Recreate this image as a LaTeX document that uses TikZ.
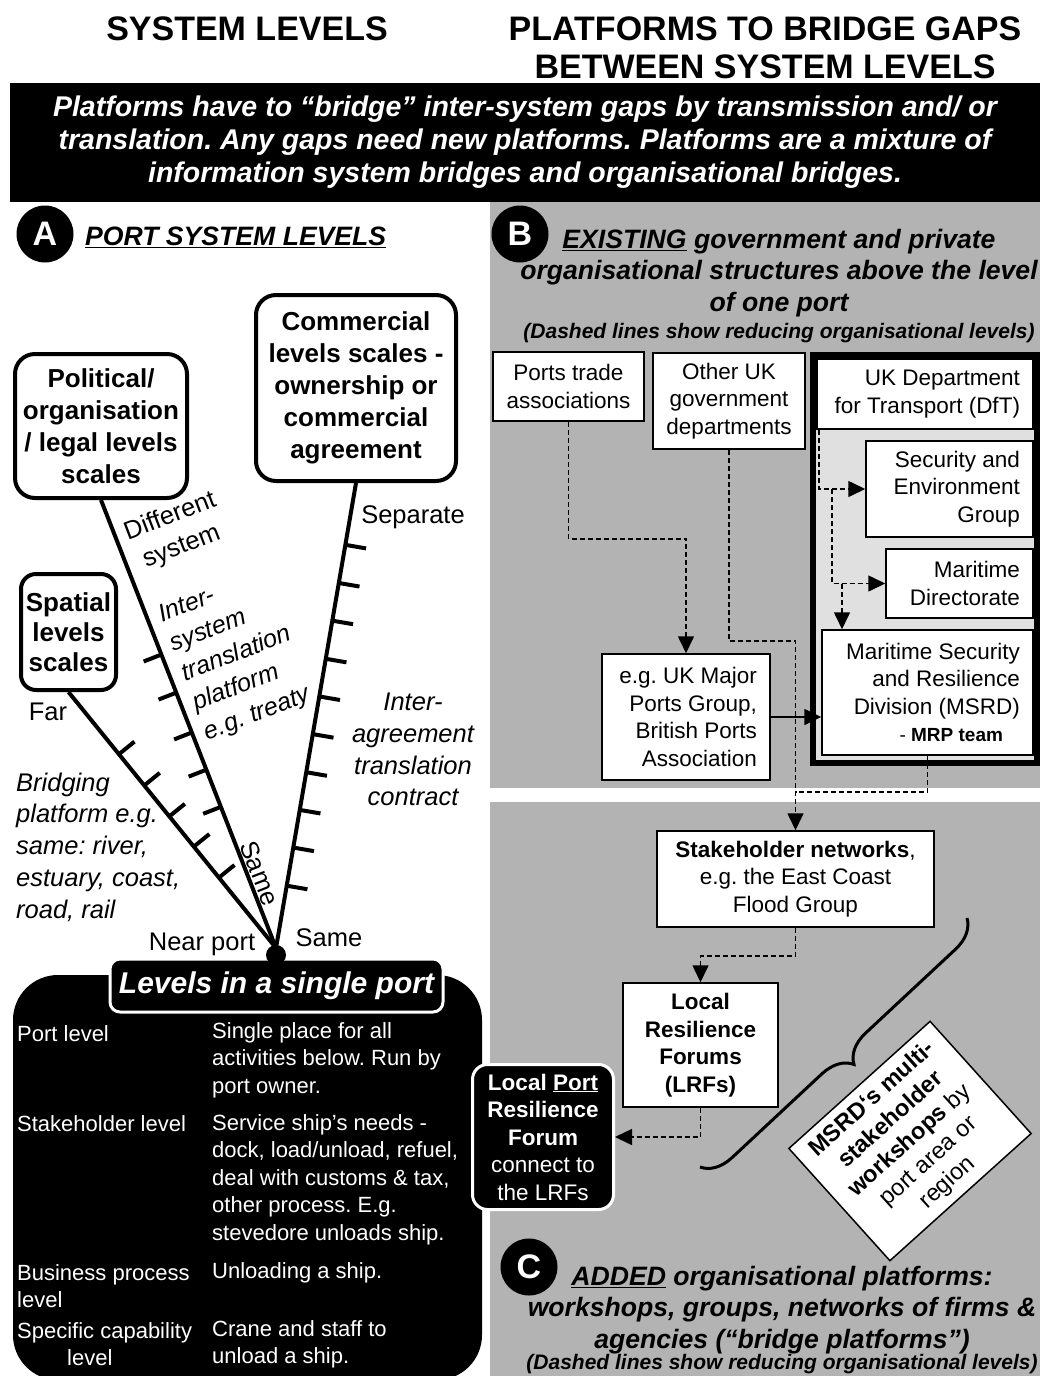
\documentclass[tikz,border=0pt]{standalone}
\usepackage{fontspec}
\setmainfont{Liberation Sans}
\usepackage{tikz}
\usetikzlibrary{positioning,shapes,arrows.meta,calc,decorations.pathreplacing}
\definecolor{panelgrey}{RGB}{179,179,179}
\definecolor{framegrey}{RGB}{224,224,224}

\begin{document}
\frenchspacing
\begin{tikzpicture}[x=1pt, y=-1pt,
    orgbox/.style={rectangle, draw=black, fill=white, line width=1.5pt, inner sep=0pt, font=\fontsize{22.5}{27.5}\selectfont},
    scalebox/.style={rectangle, draw=black, fill=white, line width=4pt, rounded corners=20pt, inner sep=0pt, align=center, font=\bfseries\fontsize{26}{32}\selectfont},
    letter/.style={circle, fill=black, text=white, minimum size=57pt, inner sep=0pt, font=\bfseries\fontsize{34}{34}\selectfont},
    heading/.style={align=center, inner sep=0pt, font=\bfseries\itshape\fontsize{26.6}{31.5}\selectfont},
    note/.style={align=center, inner sep=0pt, font=\bfseries\itshape\fontsize{21}{25}\selectfont},
    fanlabel/.style={align=center, inner sep=0pt, font=\fontsize{25.5}{32}\selectfont},
    tabletext/.style={text=white, align=left, inner sep=0pt, anchor=north west, font=\fontsize{22}{27.5}\selectfont},
    scaleline/.style={line width=4pt},
    scaletick/.style={line width=4pt},
    dashline/.style={dash pattern=on 5pt off 3pt, line width=1.6pt},
    dasharrow/.style={dashline, -{Triangle[length=17pt,width=16pt]}},
    arrow/.style={line width=1.6pt, -{Triangle[length=17pt,width=16pt]}}
]
\useasboundingbox (0,0) rectangle (1040,1376);

% Panels B and C
\fill[panelgrey] (490,202) rectangle (1040,788);
\fill[panelgrey] (490,802) rectangle (1040,1376);

% Titles
\node[font=\bfseries\fontsize{34}{38}\selectfont] (systitle) at (247,29) {SYSTEM LEVELS};
\node[font=\bfseries\fontsize{34}{38}\selectfont, align=center] (bridgetitle) at (765,48) {PLATFORMS TO BRIDGE GAPS\\BETWEEN SYSTEM LEVELS};

% Banner
\node[fill=black, text=white, minimum width=1030pt, minimum height=119pt, inner sep=0pt, align=center,
      font=\bfseries\itshape\fontsize{28.5}{33}\selectfont] (banner) at (525,142.5)
  {Platforms have to “bridge” inter-system gaps by transmission and/ or\\translation. Any gaps need new platforms. Platforms are a mixture of\\information system bridges and organisational bridges.};

% Section A
\node[letter] (circA) at (45,234) {A};
\node[heading, anchor=west] (headA) at (85,237) {\underline{PORT SYSTEM LEVELS}};

\node[scalebox, minimum width=172pt, minimum height=144pt] (political) at (101,426) {Political/\\organisation\\/ legal levels\\scales};
\node[scalebox, minimum width=200pt, minimum height=186pt] (commercial) at (356,388) {Commercial\\levels scales -\\ownership or\\commercial\\agreement};
\node[scalebox, minimum width=95pt, minimum height=116pt, rounded corners=15pt, font=\bfseries\fontsize{26}{30}\selectfont] (spatial) at (68.5,632) {Spatial\\levels\\scales};

% Fan of scales
\coordinate (apex) at (276,948);
\draw[scaleline] (spatial.south) -- (apex);
\draw[scaleline] (political.south) -- (apex);
\draw[scaleline] (commercial.south) -- (apex);

\foreach \p in {0.133,0.215,0.296,0.378,0.459,0.54,0.622,0.703,0.784,0.866}
  \draw[scaletick] ($(commercial.south)!\p!(apex)$) -- ($(commercial.south)!\p!(apex)!21pt!90:(apex)$);
\foreach \p in {0.345,0.43,0.519,0.602,0.685}
  \draw[scaletick] ($(political.south)!\p!(apex)$) -- ($(political.south)!\p!(apex)!19pt!-90:(apex)$);
\foreach \p in {0.243,0.365,0.486,0.604,0.725}
  \draw[scaletick] ($(spatial.south)!\p!(apex)$) -- ($(spatial.south)!\p!(apex)!20pt!90:(apex)$);

\node[fanlabel, rotate=21] (different) at (176,532) {Different\\system};
\node[fanlabel, rotate=21, align=left, anchor=north west, font=\itshape\fontsize{25}{31.6}\selectfont] (intersys) at (156,606) {Inter-\\system\\translation\\platform\\e.g. treaty};
\node[fanlabel] (separate) at (413,517) {Separate};
\node[fanlabel, font=\itshape\fontsize{25.5}{31.7}\selectfont] (interagree) at (413,749.5) {Inter-\\agreement\\translation\\contract};
\node[fanlabel] (far) at (48,712) {Far};
\node[fanlabel, align=left, anchor=west, font=\itshape\fontsize{25.5}{31.8}\selectfont] (bridging) at (16,847) {Bridging\\platform e.g.\\same: river,\\estuary, coast,\\road, rail};
\node[fanlabel, rotate=-69] (samemid) at (260,873) {Same};
\node[fanlabel] (nearport) at (202,944) {Near port};
\node[fanlabel] (samecom) at (329,938) {Same};

% Levels in a single port
\node[rectangle, fill=black, rounded corners=45pt, minimum width=469pt, minimum height=405pt, inner sep=0pt] (porttable) at (247.5,1177.5) {};
\node[fill=black, draw=white, line width=3pt, rounded corners=10pt, minimum width=333pt, minimum height=53pt, inner sep=0pt,
      text=white, font=\bfseries\itshape\fontsize{30}{30}\selectfont] (singleport) at (276.5,985.5) {Levels in a single port};
\fill[black] (apex) ++(0,7) circle (10pt);

\node[tabletext] (portlevel) at (17,1025) {Port level};
\node[tabletext] (portdesc) at (212,1022) {Single place for all\\activities below. Run by\\port owner.};
\node[tabletext] (stakelevel) at (17,1115) {Stakeholder level};
\node[tabletext] (stakedesc) at (212,1114) {Service ship’s needs -\\dock, load/unload, refuel,\\deal with customs \& tax,\\other process. E.g.\\stevedore unloads ship.};
\node[tabletext] (buslevel) at (17,1264) {Business process\\level};
\node[tabletext] (busdesc) at (212,1262) {Unloading a ship.};
\node[tabletext] (caplevel) at (17,1322) {Specific capability\\\hspace*{50pt}level};
\node[tabletext] (capdesc) at (212,1320) {Crane and staff to\\unload a ship.};

% Section B
\node[letter] (circB) at (520,234) {B};
\node[heading] (headB) at (779,273) {\underline{EXISTING} government and private\\organisational structures above the level\\of one port};
\node[note] (noteB) at (779,333) {(Dashed lines show reducing organisational levels)};

\node[orgbox, minimum width=151pt, minimum height=69pt, align=center] (ports) at (568.5,386.5) {Ports trade\\associations};
\node[orgbox, minimum width=152pt, minimum height=96pt, align=center] (otheruk) at (729,401) {Other UK\\government\\departments};
\node[rectangle, draw=black, fill=framegrey, line width=6pt, minimum width=224pt, minimum height=408pt] (dftframe) at (925,559) {};
\node[orgbox, minimum width=216pt, minimum height=70pt, align=flush right, text width=190pt] (dft) at (925,394) {UK Department\\for Transport (DfT)};
\node[orgbox, minimum width=167pt, minimum height=96pt, align=flush right, text width=141pt] (secenv) at (949.5,489) {Security and\\Environment\\Group};
\node[orgbox, minimum width=147pt, minimum height=69pt, align=flush right, text width=121pt] (mardir) at (959.5,583.5) {Maritime\\Directorate};
\node[orgbox, minimum width=211pt, minimum height=125pt, align=flush right, text width=185pt] (msrd) at (927.5,692.5) {Maritime Security\\and Resilience\\Division (MSRD)\\{\fontsize{19}{27}\selectfont - \textbf{MRP team}}\hbox to 17pt{}};
\node[orgbox, minimum width=168pt, minimum height=126pt, align=flush right, text width=142pt] (majorports) at (686,717) {e.g. UK Major\\Ports Group,\\British Ports\\Association};

% Section C
\node[orgbox, minimum width=277pt, minimum height=96pt, align=center] (stakenet) at (795.5,879) {\textbf{Stakeholder networks},\\e.g. the East Coast\\Flood Group};
\node[orgbox, minimum width=155pt, minimum height=124pt, align=center, font=\bfseries\fontsize{22.5}{27.5}\selectfont] (lrf) at (700.5,1045) {Local\\Resilience\\Forums\\(LRFs)};
\node[rectangle, fill=black, draw=white, line width=3pt, rounded corners=15pt, minimum width=141pt, minimum height=145pt, inner sep=0pt,
      text=white, align=center, font=\fontsize{22.5}{27.5}\selectfont] (localport) at (543,1137) {\textbf{Local \underline{Port}}\\\textbf{Resilience}\\\textbf{Forum}\\connect to\\the LRFs};
\node[orgbox, rotate=42, minimum width=190pt, minimum height=151pt, align=center, font=\fontsize{23.5}{28}\selectfont] (workshops) at (910,1141) {\textbf{MSRD‘s multi-}\\\textbf{stakeholder}\\\textbf{workshops} by\\port area or\\region};

\node[letter] (circC) at (529,1267) {C};
\node[heading] (headC) at (782,1310) {\underline{ADDED} organisational platforms:\\workshops, groups, networks of firms \&\\agencies (“bridge platforms”)};
\node[note] (noteC) at (782,1364) {(Dashed lines show reducing organisational levels)};

% Connections
\coordinate (dftsplit) at (832,489);
\coordinate (mardsplit) at (842,584);
\coordinate (join) at (795.5,792);
\draw[dasharrow] (ports.south) -- ++(0,117) -| (majorports.north);
\draw[dasharrow] (otheruk.south) -- ++(0,191) -| (stakenet.north);
\draw[dashline] (msrd.south) |- (join);
\draw[dasharrow] ([xshift=3pt]dft.south west) |- (secenv.west);
\draw[dasharrow] (dftsplit) |- (mardir.west);
\draw[dasharrow] (mardsplit) -- (mardsplit |- msrd.north);
\draw[arrow] (majorports.east) -- (majorports.east -| msrd.west);
\draw[dasharrow] (stakenet.south) -- ++(0,28) -| (lrf.north);
\draw[dasharrow] (lrf.south) |- (localport.east);

% Brace to workshops
\coordinate (bracetop) at (967,918);
\coordinate (bracebot) at (700,1167);
\draw[line width=3pt, decorate, decoration={brace, amplitude=30pt}] (bracetop) -- (bracebot);

\end{tikzpicture}
\end{document}
